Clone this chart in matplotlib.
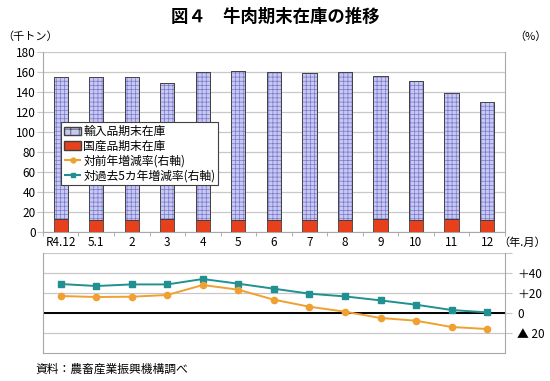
import numpy as np
import matplotlib.pyplot as plt
from matplotlib.patches import Patch
from matplotlib.lines import Line2D

plt.rcParams['font.family'] = ['Noto Sans CJK JP', 'DejaVu Sans']
plt.rcParams['hatch.linewidth'] = 0.5

months = ['R4.12', '5.1', '2', '3', '4', '5', '6', '7', '8', '9', '10', '11', '12']
total = [155, 155, 155, 149, 160, 161, 160, 159, 160, 156, 151, 139, 130]
domestic = [13, 12, 12, 13, 12, 12, 12, 12, 12, 13, 12, 13, 12]
imported = [t - d for t, d in zip(total, domestic)]
yoy = [16.7, 15.7, 16.0, 17.7, 27.7, 23.0, 13.0, 6.0, 1.0, -5.3, -8.0, -14.3, -16.3]
vs5y = [28.7, 26.7, 28.3, 28.3, 33.7, 29.0, 24.0, 19.0, 16.3, 12.3, 8.0, 2.7, 0.3]

x = np.arange(len(months))
grid_c = '#c8c8c8'

fig = plt.figure(figsize=(5.5, 3.81), dpi=100)
ax = fig.add_axes([0.078, 0.391, 0.840, 0.4725])
ax2 = fig.add_axes([0.078, 0.0743, 0.840, 0.2624])

# upper: stacked bars
ax.bar(x, domestic, width=0.4, color='#e8401c', edgecolor='#404040', linewidth=0.6, zorder=3)
ax.bar(x, imported, width=0.4, bottom=domestic, color='#c8c8f4', edgecolor='#404040',
       linewidth=0.6, zorder=3)
ax.bar(x, imported, width=0.4, bottom=domestic, color='none', edgecolor='#7878c8',
       hatch='++++', linewidth=0, zorder=3)
ax.bar(x, imported, width=0.4, bottom=domestic, color='none', edgecolor='#404040',
       linewidth=0.6, zorder=4)
ax.set_xlim(-0.5, len(months) - 0.5)
ax.set_ylim(0, 180)
ax.set_yticks(range(0, 181, 20))
ax.yaxis.grid(True, color=grid_c, linewidth=0.9, zorder=0)
ax.set_xticks(x)
ax.set_xticklabels(months, fontsize=8.5)
ax.set_xticks(np.arange(-0.5, len(months), 1), minor=True)
ax.tick_params(axis='x', which='major', length=0, pad=3)
ax.tick_params(axis='x', which='minor', length=3, color='#a0a0a0')
ax.tick_params(axis='y', labelsize=8.5, length=4, color=grid_c, pad=1)
for s in ['left', 'right', 'bottom']:
    ax.spines[s].set_color('#a8a8a8')
ax.spines['top'].set_visible(False)

handles = [
    Patch(facecolor='#c8c8f4', edgecolor='#404040', hatch='++', label='輸入品期末在庫'),
    Patch(facecolor='#e8401c', edgecolor='#404040', label='国産品期末在庫'),
    Line2D([], [], color='#f0a030', marker='o', markersize=3.5, linestyle='--', label='対前年増減率(右軸)'),
    Line2D([], [], color='#209090', marker='s', markersize=3.5, linestyle='--', label='対過去5カ年増減率(右軸)'),
]
leg = ax.legend(handles=handles, loc='upper left', bbox_to_anchor=(0.04, 0.612), fontsize=8.5,
                frameon=True, fancybox=False, edgecolor='#404040', framealpha=1,
                handlelength=1.4, handletextpad=0.2, borderpad=0.25, labelspacing=0.15,
                borderaxespad=0)
leg.get_frame().set_linewidth(0.8)

# lower: lines
ax2.plot(x, vs5y, color='#209090', marker='s', markersize=4.5, linewidth=1.4, zorder=3)
ax2.plot(x, yoy, color='#f0a030', marker='o', markersize=4.5, linewidth=1.4, zorder=3)
ax2.axhline(0, color='black', linewidth=1.4, zorder=2)
ax2.set_xlim(-0.5, len(months) - 0.5)
ax2.set_ylim(-40, 60)
ax2.set_yticks([-20, 0, 20, 40, 60])
ax2.yaxis.grid(True, color=grid_c, linewidth=0.9, zorder=0)
ax2.yaxis.tick_right()
ax2.set_yticklabels(['▲ 20', '0', '＋20', '＋40', ''])
ax2.tick_params(axis='y', labelsize=8.5, length=5, color=grid_c, pad=4)
ax2.set_xticks([])
for s in ['left', 'right', 'bottom']:
    ax2.spines[s].set_color('#a8a8a8')
ax2.spines['top'].set_visible(False)

fig.text(0.5, 0.955, '図４　牛肉期末在庫の推移', ha='center', va='center', fontsize=12.5,
         fontweight='bold')
fig.text(0.005, 0.905, '（千トン）', ha='left', va='center', fontsize=8)
fig.text(0.935, 0.905, '（%）', ha='left', va='center', fontsize=8)
fig.text(0.993, 0.362, '（年.月）', ha='right', va='center', fontsize=8)
fig.text(0.065, 0.03, '資料：農畜産業振興機構調べ', ha='left', va='center', fontsize=8.5)

fig.savefig('out.png', dpi=100)
